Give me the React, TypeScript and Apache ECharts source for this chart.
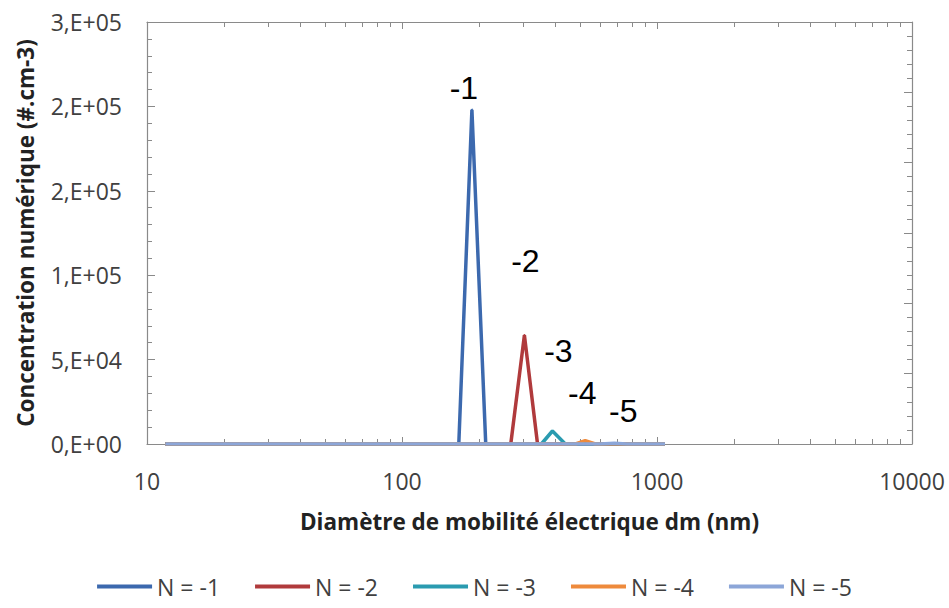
import React, { useEffect, useRef } from "react";
import * as echarts from "echarts";

// Diameters (nm) and concentrations (#/cm3) per charge number
const seriesNames = ["N = -1", "N = -2", "N = -3", "N = -4", "N = -5"];
const peakLabels = ["-1", "-2", "-3", "-4", "-5"];
const seriesColors = ["#3C69AE", "#B03A3C", "#2A9BB0", "#EE8A3C", "#8CA6D8"];

const dN1 = [11.8, 167, 188, 213, 1075];
const cN1 = [0, 0, 198000, 0, 0];
const dN2 = [11.8, 267, 302, 340, 1075];
const cN2 = [0, 0, 64500, 0, 0];
const dN3 = [11.8, 352, 389, 437, 1075];
const cN3 = [0, 0, 7700, 0, 0];
const dN4 = [11.8, 479, 523, 573, 1075];
const cN4 = [0, 0, 2000, 0, 0];
const dN5 = [11.8, 600, 680, 760, 1075];
const cN5 = [0, 0, 400, 0, 0];

const xMajorTicks = [10, 100, 1000, 10000];
const xMinorTicks = [20, 30, 40, 50, 60, 70, 80, 90, 200, 300, 400, 500, 600, 700, 800, 900, 2000, 3000, 4000, 5000, 6000, 7000, 8000, 9000];

const labelOffsets: [number, number][] = [[-8, 0], [1, -52], [6, -58], [-3, -26], [9, -10]];

const AXIS_COLOR = "#8a8a8a";
const FONT = "'Open Sans', 'Noto Sans', sans-serif";

function sciLabel(v: number): string {
  if (v === 0) return "0,E+00";
  const [m, e] = v.toExponential(0).split("e");
  const sign = e[0] === "-" ? "-" : "+";
  const digits = e.replace(/[+-]/, "").padStart(2, "0");
  return `${m},E${sign}${digits}`;
}

export default function App() {
  const ref = useRef<HTMLDivElement>(null);
  useEffect(() => {
    if (!ref.current) return;
    const chart = echarts.init(ref.current, null, { renderer: "svg" });
    const ds = [dN1, dN2, dN3, dN4, dN5];
    const cs = [cN1, cN2, cN3, cN4, cN5];
    const series = seriesNames.map((name, i) => {
      const d = ds[i];
      const c = cs[i];
      let peak = 0;
      c.forEach((v, j) => { if (v > c[peak]) peak = j; });
      return {
        name,
        type: "line",
        xAxisIndex: 0,
        yAxisIndex: 0,
        showSymbol: true,
        symbol: "none",
        lineStyle: { width: 3.5, color: seriesColors[i] },
        itemStyle: { color: seriesColors[i] },
        z: 2 + i,
        data: d.map((x, j) =>
          j === peak
            ? {
                value: [x, c[j]],
                symbol: "circle",
                symbolSize: 2,
                label: {
                  show: true,
                  formatter: peakLabels[i],
                  position: "top",
                  distance: 5,
                  offset: labelOffsets[i],
                  fontFamily: "'Liberation Sans', Arial, sans-serif",
                  fontSize: 32,
                  color: "#000",
                },
              }
            : { value: [x, c[j]], symbol: "none" }
        ),
      };
    });

    const logBase = {
      type: "log",
      logBase: 10,
      min: 10,
      max: 10000,
      splitLine: { show: false },
      offset: 0,
    };

    chart.setOption({
      animation: false,
      backgroundColor: "#ffffff",
      grid: { left: 147, right: 37, top: 22, bottom: 164, containLabel: false },
      legend: {
        bottom: 5,
        left: "center",
        icon: "rect",
        itemWidth: 55,
        itemHeight: 4,
        itemGap: 35,
        textStyle: { fontFamily: FONT, fontSize: 23, color: "#404040" },
        data: seriesNames,
      },
      xAxis: [
        {
          ...logBase,
          position: "bottom",
          name: "Diamètre de mobilité électrique dm (nm)",
          nameLocation: "middle",
          nameGap: 66,
          nameTextStyle: { fontFamily: FONT, fontSize: 22.5, fontWeight: "bold", color: "#222" },
          axisLine: { show: true, lineStyle: { color: AXIS_COLOR, width: 1.2 } },
          axisTick: { show: true, inside: true, length: 7, lineStyle: { color: AXIS_COLOR } },
          axisLabel: {
            show: true,
            margin: 25,
            fontFamily: FONT,
            fontSize: 23,
            color: "#404040",
            customValues: xMajorTicks,
            formatter: (v: number) => String(Math.round(v)),
          },
        },
        {
          ...logBase,
          position: "bottom",
          axisLine: { show: false },
          axisTick: { show: true, inside: true, length: 5, customValues: xMinorTicks, lineStyle: { color: AXIS_COLOR } },
          axisLabel: { show: false },
        },
        {
          ...logBase,
          position: "top",
          axisLine: { show: true, lineStyle: { color: AXIS_COLOR, width: 1.2 } },
          axisTick: { show: true, inside: true, length: 7, lineStyle: { color: AXIS_COLOR } },
          axisLabel: { show: false },
        },
        {
          ...logBase,
          position: "top",
          axisLine: { show: false },
          axisTick: { show: true, inside: true, length: 5, customValues: xMinorTicks, lineStyle: { color: AXIS_COLOR } },
          axisLabel: { show: false },
        },
      ],
      yAxis: [
        {
          type: "value",
          position: "left",
          min: 0,
          max: 250000,
          interval: 50000,
          offset: 0,
          name: "Concentration numérique (#.cm-3)",
          nameLocation: "middle",
          nameGap: 110,
          nameTextStyle: { fontFamily: FONT, fontSize: 22.5, fontWeight: "bold", color: "#222" },
          splitLine: { show: false },
          axisLine: { show: true, lineStyle: { color: AXIS_COLOR, width: 1.2 } },
          axisTick: { show: true, inside: true, length: 8, lineStyle: { color: AXIS_COLOR } },
          minorTick: { show: true, splitNumber: 5, length: 5, lineStyle: { color: AXIS_COLOR } },
          axisLabel: {
            margin: 25,
            fontFamily: FONT,
            fontSize: 23,
            color: "#404040",
            formatter: (v: number) => sciLabel(v),
          },
        },
        {
          type: "value",
          position: "right",
          min: 0,
          max: 6,
          interval: 1,
          offset: 0,
          splitLine: { show: false },
          axisLine: { show: true, lineStyle: { color: AXIS_COLOR, width: 1.2 } },
          axisTick: { show: true, inside: true, length: 8, lineStyle: { color: AXIS_COLOR } },
          minorTick: { show: true, splitNumber: 5, length: 5, lineStyle: { color: AXIS_COLOR } },
          axisLabel: { show: false },
        },
      ],
      series,
    });
    return () => chart.dispose();
  }, []);
  return (
    <div
      ref={ref}
      style={{ position: "fixed", left: 0, top: 0, width: 949, height: 608, background: "#fff" }}
    />
  );
}
